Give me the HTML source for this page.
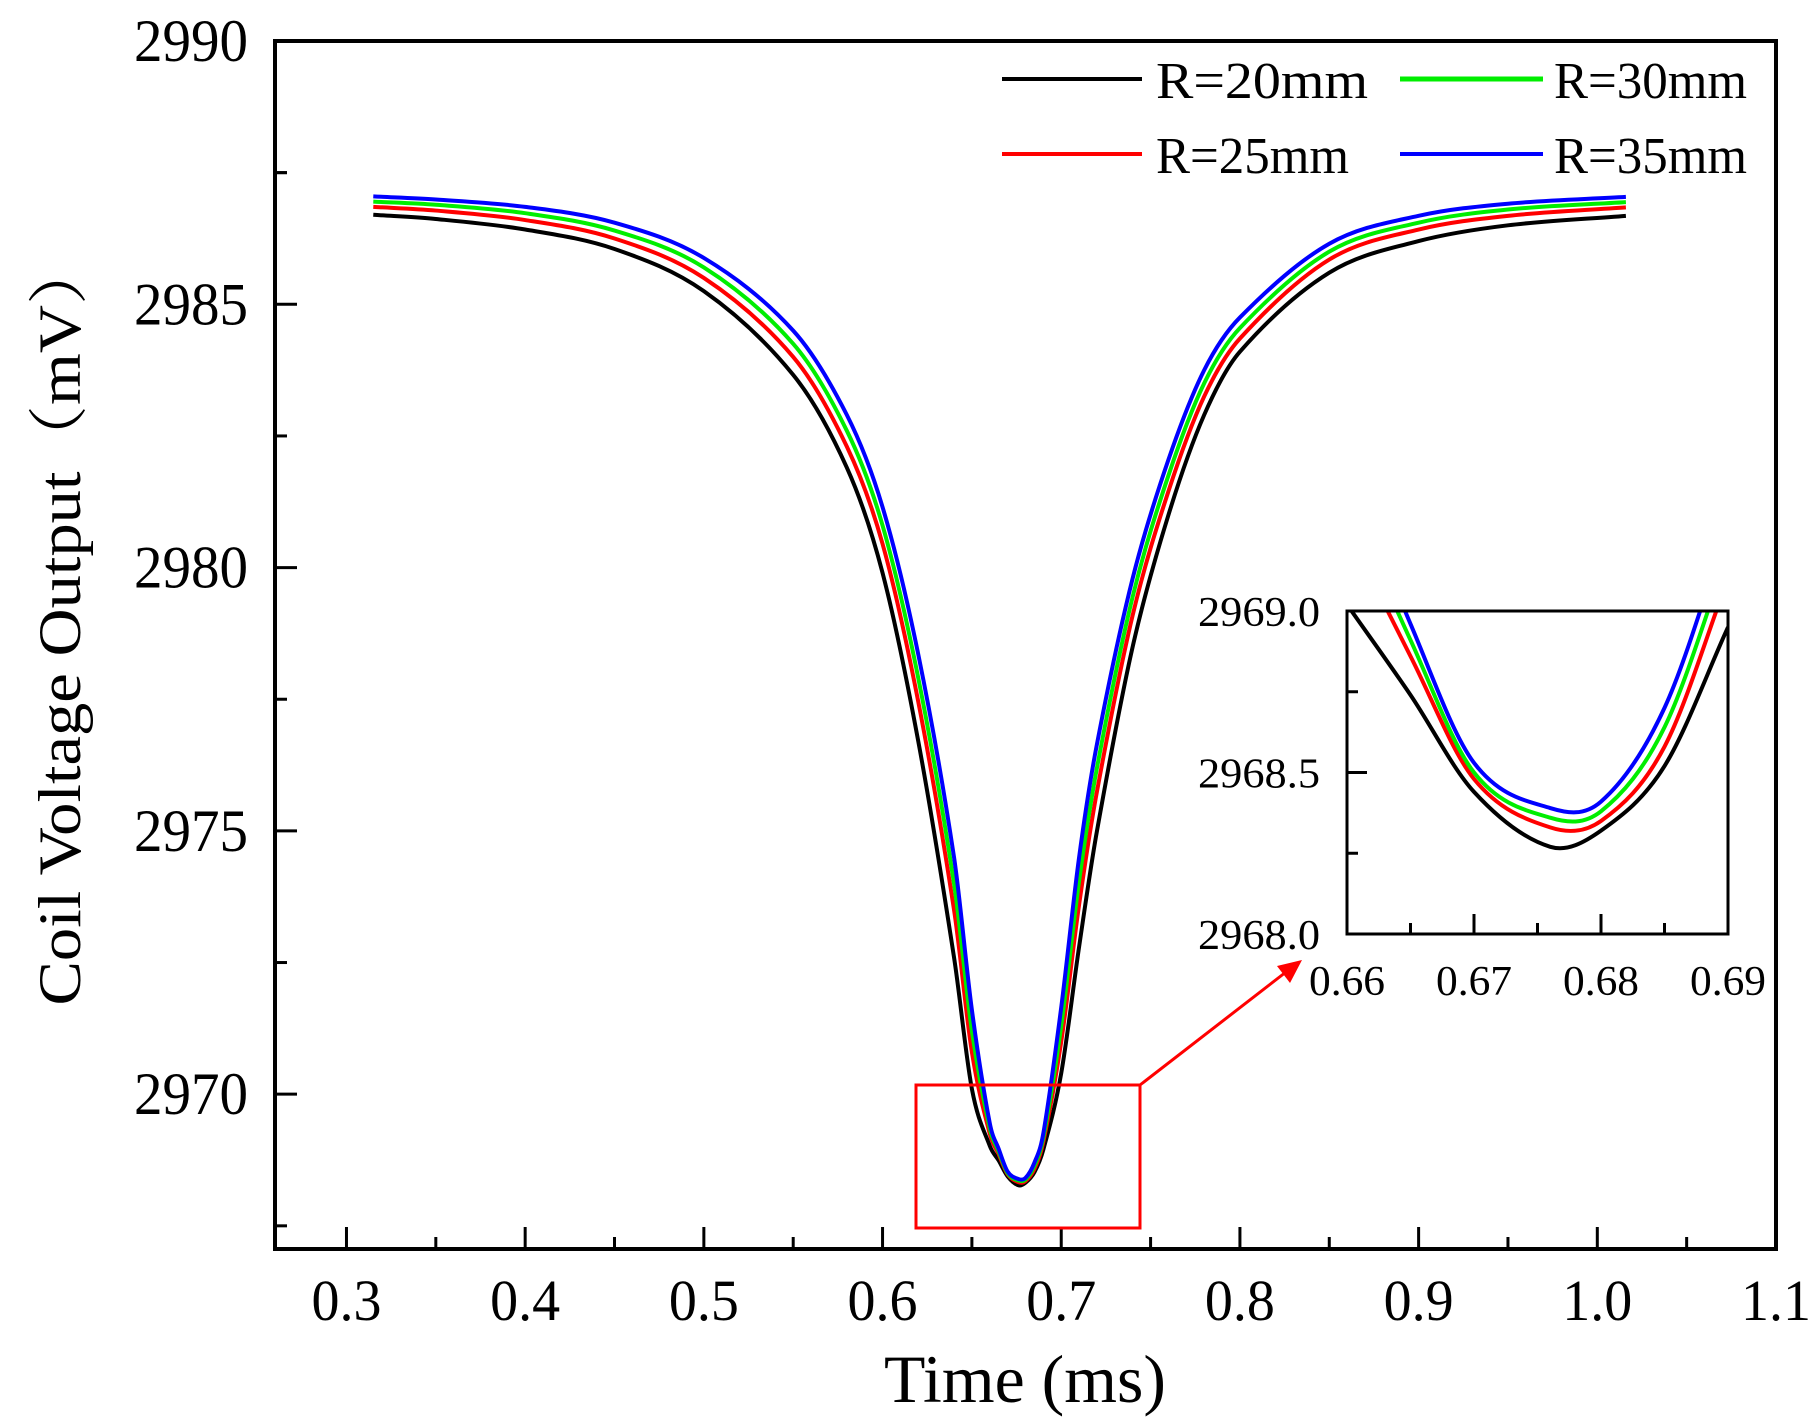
<!DOCTYPE html>
<html><head><meta charset="utf-8"><style>
html,body{margin:0;padding:0;background:#fff;}
svg{display:block;font-family:"Liberation Serif","Noto Serif CJK SC",serif;}
</style></head><body>
<svg id="chart" width="1817" height="1419" viewBox="0 0 1817 1419" xmlns="http://www.w3.org/2000/svg">
<defs>
<clipPath id="mainClip"><rect x="275" y="41" width="1501" height="1208"/></clipPath>
<clipPath id="insetClip"><rect x="1347" y="611" width="381" height="323"/></clipPath>
</defs>
<g id="main"></g>
<g id="inset"></g>
<rect x="916" y="1085" width="224" height="143" fill="none" stroke="#ff0000" stroke-width="3"/>
<line x1="1140" y1="1085" x2="1286" y2="972" stroke="#ff0000" stroke-width="3"/>
<polygon points="1302,960 1277,966 1290,983" fill="#ff0000"/>
<g>
 <g><line x1="1002" y1="79" x2="1142" y2="79" stroke="#000" stroke-width="4"/><text x="1156" y="98" font-size="52" textLength="212" lengthAdjust="spacingAndGlyphs">R=20mm</text></g>
 <g><line x1="1002" y1="154" x2="1142" y2="154" stroke="#ff0000" stroke-width="4"/><text x="1156" y="173" font-size="52" textLength="193" lengthAdjust="spacingAndGlyphs">R=25mm</text></g>
 <g><line x1="1400" y1="79" x2="1543" y2="79" stroke="#00ee00" stroke-width="5"/><text x="1554" y="98" font-size="52" textLength="193" lengthAdjust="spacingAndGlyphs">R=30mm</text></g>
 <g><line x1="1400" y1="154" x2="1543" y2="154" stroke="#0000ff" stroke-width="4"/><text x="1554" y="173" font-size="52" textLength="193" lengthAdjust="spacingAndGlyphs">R=35mm</text></g>
</g>
<text x="1025" y="1402" font-size="68" text-anchor="middle" textLength="282" lengthAdjust="spacingAndGlyphs">Time (ms)</text>
<text transform="translate(80,622) rotate(-90)" font-size="60" text-anchor="middle" textLength="767" lengthAdjust="spacingAndGlyphs">Coil Voltage Output（mV）</text>
</svg>
<script>
const times  = [0.315,0.35,0.40,0.45,0.50,0.55,0.58,0.60,0.62,0.64,0.65,0.66,0.665,0.67,0.676,0.68,0.685,0.69,0.70,0.71,0.72,0.74,0.76,0.78,0.80,0.85,0.90,0.95,1.016];
const r20 = [2986.70,2986.62,2986.42,2986.05,2985.25,2983.66,2981.90,2979.90,2976.70,2972.60,2970.10,2969.02,2968.74,2968.44,2968.27,2968.32,2968.52,2968.95,2970.40,2972.80,2975.00,2978.50,2981.00,2982.90,2984.10,2985.60,2986.20,2986.50,2986.68];
const r25 = [2986.85,2986.78,2986.60,2986.25,2985.50,2984.00,2982.30,2980.45,2977.45,2973.50,2970.80,2969.25,2968.86,2968.48,2968.33,2968.35,2968.58,2969.10,2971.00,2973.60,2975.75,2979.10,2981.45,2983.25,2984.35,2985.85,2986.42,2986.68,2986.84];
const r30 = [2986.95,2986.89,2986.73,2986.40,2985.70,2984.25,2982.60,2980.80,2977.90,2974.00,2971.20,2969.35,2968.91,2968.50,2968.36,2968.38,2968.64,2969.18,2971.30,2974.05,2976.20,2979.45,2981.75,2983.50,2984.55,2986.00,2986.55,2986.80,2986.94];
const r35 = [2987.05,2986.99,2986.85,2986.55,2985.88,2984.50,2982.90,2981.15,2978.35,2974.50,2971.60,2969.45,2968.96,2968.53,2968.39,2968.41,2968.70,2969.26,2971.65,2974.50,2976.65,2979.80,2982.05,2983.75,2984.75,2986.15,2986.68,2986.91,2987.04];
const seriesNames = ["r20","r25","r30","r35"];
const xTicks = [0.3,0.4,0.5,0.6,0.7,0.8,0.9,1.0,1.1];
const xTickLabels = ["0.3","0.4","0.5","0.6","0.7","0.8","0.9","1.0","1.1"];
const yTicks = [2970,2975,2980,2985,2990];
const yTickLabels = ["2970","2975","2980","2985","2990"];
const insetXTicks = [0.66,0.67,0.68,0.69];
const insetXLabels = ["0.66","0.67","0.68","0.69"];
const insetYTicks = [2968.0,2968.5,2969.0];
const insetYLabels = ["2968.0","2968.5","2969.0"];

const NS="http://www.w3.org/2000/svg";
const colors=["#000000","#ff0000","#00ee00","#0000ff"];
const allSeries=[r20,r25,r30,r35];
function mk(tag,attrs,parent){const e=document.createElementNS(NS,tag);for(const k in attrs)e.setAttribute(k,attrs[k]);parent.appendChild(e);return e;}
function smoothPath(pts){
 const n=pts.length,m=[];
 for(let i=0;i<n;i++){const a=pts[Math.max(0,i-1)],b=pts[Math.min(n-1,i+1)];m.push((b[1]-a[1])/(b[0]-a[0]));}
 let d="M"+pts[0][0].toFixed(2)+","+pts[0][1].toFixed(2);
 for(let i=0;i<n-1;i++){const p1=pts[i],p2=pts[i+1],dx=(p2[0]-p1[0])/3;
  d+=" C"+(p1[0]+dx).toFixed(2)+","+(p1[1]+m[i]*dx).toFixed(2)+" "+(p2[0]-dx).toFixed(2)+","+(p2[1]-m[i+1]*dx).toFixed(2)+" "+p2[0].toFixed(2)+","+p2[1].toFixed(2);}
 return d;}

const X0=275,X1=1776,Y0=41,Y1=1249;
const xMin=0.26,xMax=1.1,yMin=2967.06,yMax=2990;
const sx=v=>X0+(v-xMin)/(xMax-xMin)*(X1-X0);
const sy=v=>Y1-(v-yMin)/(yMax-yMin)*(Y1-Y0);
const main=document.getElementById("main");
const mg=mk("g",{"clip-path":"url(#mainClip)"},main);
allSeries.forEach((s,i)=>{
 const p=mk("path",{d:smoothPath(times.map((t,j)=>[sx(t),sy(s[j])])),fill:"none",stroke:colors[i],"stroke-width":4,"stroke-linejoin":"round"},mg);
 
 
});
const frame=mk("rect",{x:X0,y:Y0,width:X1-X0,height:Y1-Y0,fill:"none",stroke:"#000","stroke-width":4},main);


xTicks.forEach((v,i)=>{
 const x=sx(v);
 if(x>X0+2&&x<X1-2) mk("line",{x1:x,y1:Y1,x2:x,y2:Y1-22,stroke:"#000","stroke-width":3},main);
 const t=mk("text",{x:x,y:1320,"font-size":58,"text-anchor":"middle",textLength:70,lengthAdjust:"spacingAndGlyphs"},main);
 t.textContent=xTickLabels[i];
 
 
 if(i<xTicks.length-1){const xm=sx(v+0.05);mk("line",{x1:xm,y1:Y1,x2:xm,y2:Y1-12,stroke:"#000","stroke-width":3},main);}
});
yTicks.forEach((v,i)=>{
 const y=sy(v);
 if(y>Y0+2) mk("line",{x1:X0,y1:y,x2:X0+22,y2:y,stroke:"#000","stroke-width":3},main);
 const t=mk("text",{x:248,y:y+20,"font-size":60,"text-anchor":"end",textLength:114,lengthAdjust:"spacingAndGlyphs"},main);
 t.textContent=yTickLabels[i];
 
 
 const ym=sy(v-2.5); if(ym<Y1-2) mk("line",{x1:X0,y1:ym,x2:X0+12,y2:ym,stroke:"#000","stroke-width":3},main);
});
mk("line",{x1:X0,y1:sy(2987.5),x2:X0+12,y2:sy(2987.5),stroke:"#000","stroke-width":3},main);

const IX0=1347,IX1=1728,IY0=611,IY1=934;
const ixMin=0.66,ixMax=0.69,iyMin=2968.0,iyMax=2969.0;
const isx=v=>IX0+(v-ixMin)/(ixMax-ixMin)*(IX1-IX0);
const isy=v=>IY1-(v-iyMin)/(iyMax-iyMin)*(IY1-IY0);
const inset=document.getElementById("inset");
mk("rect",{x:IX0,y:IY0,width:IX1-IX0,height:IY1-IY0,fill:"#fff"},inset);
const ig=mk("g",{"clip-path":"url(#insetClip)"},inset);
allSeries.forEach((s,i)=>{
 const pts=[];times.forEach((t,j)=>{if(t>=0.659&&t<=0.691)pts.push([isx(t),isy(s[j])]);});
 const p=mk("path",{d:smoothPath(pts),fill:"none",stroke:colors[i],"stroke-width":4},ig);
 
 
});
mk("rect",{x:IX0,y:IY0,width:IX1-IX0,height:IY1-IY0,fill:"none",stroke:"#000","stroke-width":3},inset);
insetXTicks.forEach((v,i)=>{
 const x=isx(v);
 if(x>IX0+2&&x<IX1-2) mk("line",{x1:x,y1:IY1,x2:x,y2:IY1-20,stroke:"#000","stroke-width":3},inset);
 const t=mk("text",{x:x,y:995,"font-size":42,"text-anchor":"middle",textLength:76,lengthAdjust:"spacingAndGlyphs"},inset);
 t.textContent=insetXLabels[i];
 
 
 if(i<insetXTicks.length-1){const xm=isx(v+0.005);mk("line",{x1:xm,y1:IY1,x2:xm,y2:IY1-11,stroke:"#000","stroke-width":3},inset);}
});
insetYTicks.forEach((v,i)=>{
 const y=isy(v);
 if(y>IY0+2&&y<IY1-2) mk("line",{x1:IX0,y1:y,x2:IX0+20,y2:y,stroke:"#000","stroke-width":3},inset);
 const t=mk("text",{x:1320,y:y+15,"font-size":42,"text-anchor":"end",textLength:122,lengthAdjust:"spacingAndGlyphs"},inset);
 t.textContent=insetYLabels[i];
 
 
 if(i<insetYTicks.length-1){const ym=isy(v+0.25);mk("line",{x1:IX0,y1:ym,x2:IX0+11,y2:ym,stroke:"#000","stroke-width":3},inset);}
});
</script>
</body></html>
